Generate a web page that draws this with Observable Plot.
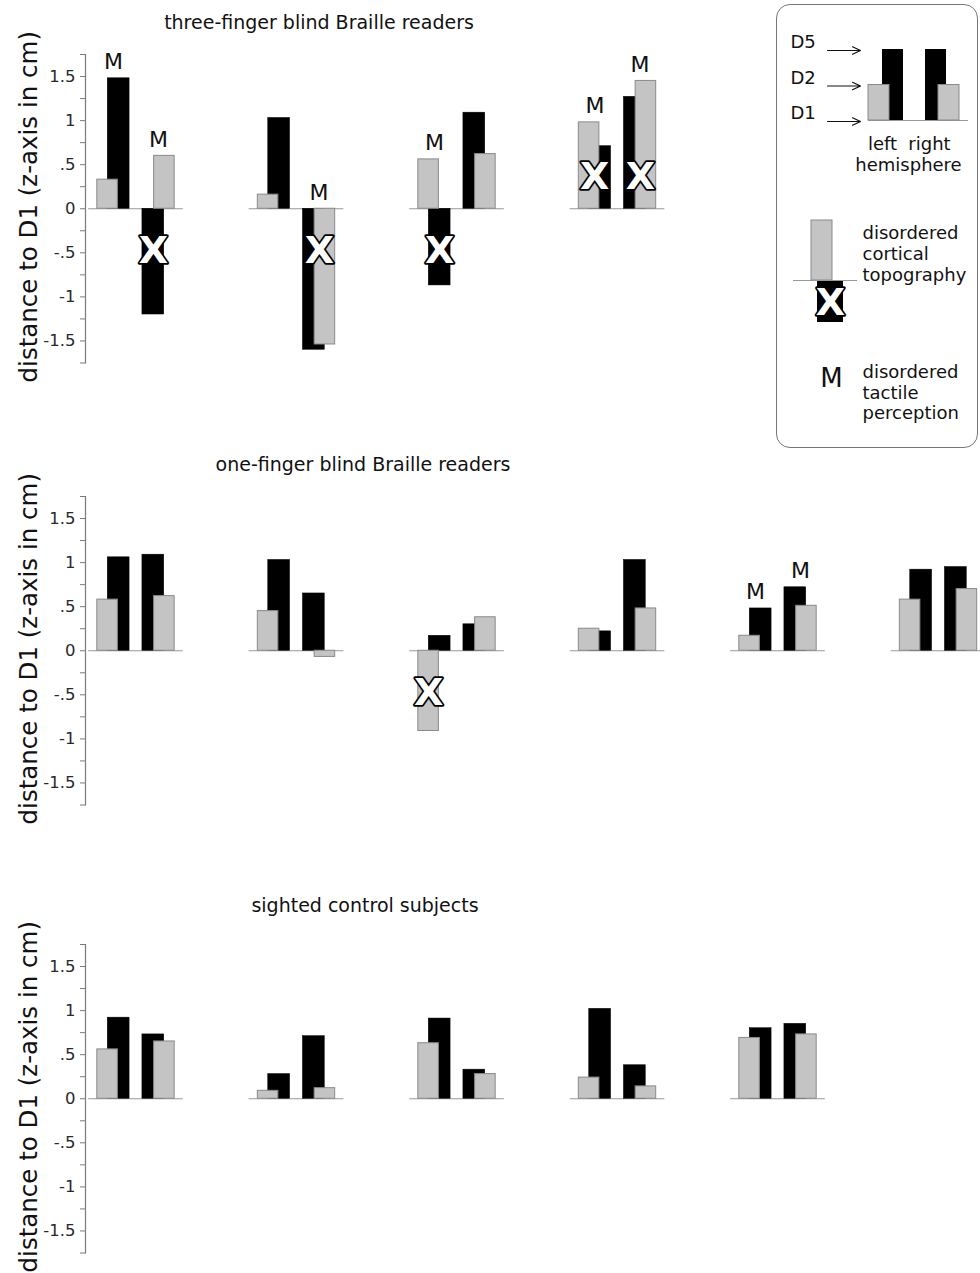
<!DOCTYPE html>
<html><head><meta charset="utf-8">
<script src="https://cdn.jsdelivr.net/npm/d3@7"></script>
<script src="https://cdn.jsdelivr.net/npm/@observablehq/plot@0.6"></script>
<style>
body{margin:0;background:#fff;}
#root{position:relative;width:980px;height:1273px;overflow:hidden;font-family:"DejaVu Sans",Verdana,sans-serif;color:#111;}
.title{position:absolute;font-size:19px;white-space:nowrap;transform:translate(-50%,-50%);}
.panel{position:absolute;left:0;}
#legendBox{position:absolute;left:776px;top:4px;width:202px;height:444px;border:1.5px solid #777;border-radius:14px;box-sizing:border-box;}
#legend{position:absolute;left:776px;top:4px;}
</style></head><body><div id="root"></div>
<script>
// ---------- data (distance to D1, z-axis in cm) ----------
// three-finger blind Braille readers (4 subjects)
const threeLeftD2  = [0.33, 0.16, 0.56, 0.98];
const threeLeftD5  = [1.48, 1.03, -0.87, 0.71];
const threeRightD5 = [-1.20, -1.60, 1.09, 1.27];
const threeRightD2 = [0.60, -1.54, 0.62, 1.45];
const threeM = [{group:0, side:"left"}, {group:0, side:"right"}, {group:1, side:"right"}, {group:2, side:"left"}, {group:3, side:"left"}, {group:3, side:"right"}];
const threeX = [{group:0, side:"right", finger:"D5"}, {group:1, side:"right", finger:"both"}, {group:2, side:"left", finger:"D5"}, {group:3, side:"left", finger:"both"}, {group:3, side:"right", finger:"both"}];

// one-finger blind Braille readers (6 subjects)
const oneLeftD2  = [0.58, 0.45, -0.91, 0.25, 0.17, 0.58];
const oneLeftD5  = [1.06, 1.03, 0.17, 0.22, 0.48, 0.92];
const oneRightD5 = [1.09, 0.65, 0.30, 1.03, 0.72, 0.95];
const oneRightD2 = [0.62, -0.07, 0.38, 0.48, 0.51, 0.70];
const oneM = [{group:4, side:"left"}, {group:4, side:"right"}];
const oneX = [{group:2, side:"left", finger:"D2"}];

// sighted control subjects (5 subjects)
const sightLeftD2  = [0.56, 0.09, 0.63, 0.24, 0.69];
const sightLeftD5  = [0.92, 0.28, 0.91, 1.02, 0.80];
const sightRightD5 = [0.73, 0.71, 0.33, 0.38, 0.85];
const sightRightD2 = [0.65, 0.12, 0.28, 0.14, 0.73];
const sightM = [];
const sightX = [];

const panelTitles = ["three-finger blind Braille readers", "one-finger blind Braille readers", "sighted control subjects"];
const yLabel = "distance to D1 (z-axis in cm)";
const yTicks = d3.range(-7, 8).map(i => i * 0.25);

// ---------- layout ----------
const STEP = 160.5, ML = 85, FIRST = 135.5, W = 980;
const MT = 20, MB = 15, PH = 308.5;
const OFF = {left: {D2: [-0.241, -0.113], D5: [-0.176, -0.04]}, right: {D5: [0.04, 0.176], D2: [0.113, 0.241]}};
const HEMI = {left: -0.14, right: 0.14};
const X_NEG = -0.48, X_POS = 0.36;
const GRAY = "#c4c4c4", GRAY_STROKE = "#8a8a8a", AXIS = "#7a7a7a";

function fmtTick(d) {
  if (Math.abs(d * 2 - Math.round(d * 2)) > 1e-9) return "";
  if (d === 0) return "0";
  return (d < 0 ? "-" : "") + String(Math.abs(d)).replace(/^0\./, ".");
}

const root = document.getElementById("root");

function panel(cfg) {
  const n = cfg.leftD2.length;
  const bars = [];
  for (let g = 0; g < n; g++) {
    bars.push({g, side: "left", finger: "D2", v: cfg.leftD2[g]});
    bars.push({g, side: "left", finger: "D5", v: cfg.leftD5[g]});
    bars.push({g, side: "right", finger: "D5", v: cfg.rightD5[g]});
    bars.push({g, side: "right", finger: "D2", v: cfg.rightD2[g]});
  }
  const x1 = b => b.g + OFF[b.side][b.finger][0];
  const x2 = b => b.g + OFF[b.side][b.finger][1];
  const mData = cfg.M.map(m => {
    const vals = bars.filter(b => b.g === m.group && b.side === m.side).map(b => b.v);
    return {x: m.group + HEMI[m.side], y: Math.max(0, ...vals)};
  });
  const xData = cfg.X.map(m => {
    const bs = bars.filter(b => b.g === m.group && b.side === m.side && (m.finger === "both" || b.finger === m.finger));
    const x = d3.mean(bs, b => (x1(b) + x2(b)) / 2);
    const v = d3.min(bs, b => b.v);
    return {x, y: v < 0 ? X_NEG : X_POS};
  });
  const groups = d3.range(n);
  const plot = Plot.plot({
    width: W, height: PH + MT + MB,
    marginLeft: ML, marginRight: 0, marginTop: MT, marginBottom: MB,
    style: {overflow: "visible", background: "transparent", fontFamily: "'DejaVu Sans', Verdana, sans-serif"},
    x: {domain: [-(FIRST - ML) / STEP, (W - FIRST) / STEP], axis: null},
    y: {domain: [-1.75, 1.75], axis: null},
    marks: [
      Plot.frame({anchor: "left", stroke: AXIS, strokeWidth: 1.2}),
      Plot.axisY({ticks: yTicks, tickFormat: fmtTick, tickSize: 5, tickPadding: 5, stroke: AXIS, color: "#2a2a2a", fontSize: 16.5, label: null}),
      Plot.text([yLabel], {frameAnchor: "left", textAnchor: "middle", lineAnchor: "middle", rotate: -90, dx: -56, dy: -2, fontSize: 24.5, fill: "#111", text: d => d}),
      Plot.ruleY(groups, {y: () => 0, x1: g => g - 0.295, x2: g => g + 0.295, stroke: "#999", strokeWidth: 1.2}),
      Plot.rectY(bars.filter(b => b.finger === "D5"), {x1, x2, y1: () => 0, y2: "v", fill: "#000", stroke: "#000", strokeWidth: 0.5}),
      Plot.rectY(bars.filter(b => b.finger === "D2"), {x1, x2, y1: () => 0, y2: "v", fill: GRAY, stroke: GRAY_STROKE, strokeWidth: 1}),
      Plot.text(mData, {x: "x", y: "y", text: () => "M", dy: -9, lineAnchor: "bottom", fontSize: 22, fill: "#111"}),
      Plot.text(xData, {x: "x", y: "y", text: () => "X", fontSize: 38, fontWeight: "bold", fill: "#fff", stroke: "#000", strokeWidth: 3.5})
    ]
  });
  const div = document.createElement("div");
  div.className = "panel";
  div.style.top = (cfg.axisTop - MT) + "px";
  div.appendChild(plot);
  root.appendChild(div);
  const t = document.createElement("div");
  t.className = "title";
  t.textContent = cfg.title;
  t.style.left = cfg.titleX + "px";
  t.style.top = cfg.titleY + "px";
  root.appendChild(t);
}

panel({leftD2: threeLeftD2, leftD5: threeLeftD5, rightD5: threeRightD5, rightD2: threeRightD2, M: threeM, X: threeX, title: panelTitles[0], axisTop: 53.5, titleX: 319, titleY: 22});
panel({leftD2: oneLeftD2, leftD5: oneLeftD5, rightD5: oneRightD5, rightD2: oneRightD2, M: oneM, X: oneX, title: panelTitles[1], axisTop: 496, titleX: 363, titleY: 464});
panel({leftD2: sightLeftD2, leftD5: sightLeftD5, rightD5: sightRightD5, rightD2: sightRightD2, M: sightM, X: sightX, title: panelTitles[2], axisTop: 944, titleX: 365, titleY: 905});

// ---------- legend (schematic key) ----------
const legendLevels = [{name: "D5", level: 2}, {name: "D2", level: 1}, {name: "D1", level: 0}];
const legendBars = [
  {side: "left", finger: "D2", level: 1}, {side: "left", finger: "D5", level: 2},
  {side: "right", finger: "D5", level: 2}, {side: "right", finger: "D2", level: 1}
];
const legendTopo = ["disordered", "cortical", "topography"];
const legendTact = ["disordered", "tactile", "perception"];
const legendHemi = [{t: "left", x: 106}, {t: "right", x: 153}];

const box = document.createElement("div");
box.id = "legendBox";
root.appendChild(box);

const lvlY = d3.scaleLinear([0, 2], [116, 45]);
const LX = {left: {D2: [92, 113], D5: [106, 127]}, right: {D5: [149, 170], D2: [162, 183]}};
const legendFont = "'DejaVu Sans', Verdana, sans-serif";
const legend = Plot.plot({
  width: 202, height: 444, margin: 0,
  style: {overflow: "visible", background: "transparent", fontFamily: legendFont},
  x: {type: "identity", axis: null}, y: {type: "identity", axis: null},
  marks: [
    Plot.text(legendLevels, {x: () => 14, y: d => lvlY(d.level) - 7, text: "name", textAnchor: "start", fontSize: 18, fill: "#111"}),
    Plot.arrow(legendLevels, {x1: () => 51, x2: () => 84, y1: d => lvlY(d.level) + 1, y2: d => lvlY(d.level) + 1, stroke: "#111", strokeWidth: 1.2, headLength: 11, headAngle: 50}),
    Plot.ruleY([0], {y: () => lvlY(0), x1: () => 92, x2: () => 192, stroke: "#999", strokeWidth: 1.2}),
    Plot.rect(legendBars.filter(d => d.finger === "D5"), {x1: d => LX[d.side][d.finger][0], x2: d => LX[d.side][d.finger][1], y1: () => lvlY(0), y2: d => lvlY(d.level), fill: "#000"}),
    Plot.rect(legendBars.filter(d => d.finger === "D2"), {x1: d => LX[d.side][d.finger][0], x2: d => LX[d.side][d.finger][1], y1: () => lvlY(0), y2: d => lvlY(d.level), fill: GRAY, stroke: GRAY_STROKE}),
    Plot.text(legendHemi, {x: "x", y: () => 140, text: "t", fontSize: 18, fill: "#111"}),
    Plot.text(["hemisphere"], {x: () => 132, y: () => 161, text: d => d, fontSize: 18, fill: "#111"}),
    // disordered cortical topography
    Plot.rect([1], {x1: () => 35, x2: () => 56, y1: () => 216, y2: () => 276, fill: GRAY, stroke: GRAY_STROKE}),
    Plot.rect([1], {x1: () => 41, x2: () => 67, y1: () => 276, y2: () => 318, fill: "#000"}),
    Plot.ruleY([0], {y: () => 276, x1: () => 17, x2: () => 81, stroke: "#999", strokeWidth: 1.2}),
    Plot.text(["X"], {x: () => 54, y: () => 298, text: d => d, fontSize: 38, fontWeight: "bold", fill: "#fff", stroke: "#000", strokeWidth: 3.5}),
    Plot.text(legendTopo, {x: () => 86, y: (d, i) => 229 + i * 21, text: d => d, textAnchor: "start", fontSize: 18, fill: "#111"}),
    // disordered tactile perception
    Plot.text(["M"], {x: () => 55, y: () => 374, text: d => d, fontSize: 26, fill: "#111"}),
    Plot.text(legendTact, {x: () => 86, y: (d, i) => 368 + i * 20.5, text: d => d, textAnchor: "start", fontSize: 18, fill: "#111"})
  ]
});
const lg = document.createElement("div");
lg.id = "legend";
lg.appendChild(legend);
root.appendChild(lg);
</script></body></html>
